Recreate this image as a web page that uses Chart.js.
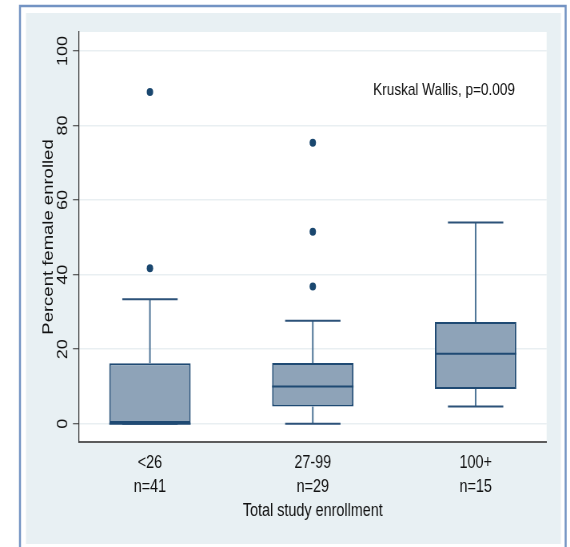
<!DOCTYPE html>
<html><head><meta charset="utf-8">
<script src="https://cdn.jsdelivr.net/npm/chart.js@4.4.1/dist/chart.umd.min.js"></script>
<style>
html,body{margin:0;padding:0;background:#fff;overflow:hidden;width:570px;height:547px}
#c{display:block;transform:scaleX(0.79944);transform-origin:0 0}
</style>
</head><body>
<canvas id="c" width="713" height="547"></canvas>
<script>
// ---- data ----
const categories = ['<26', '27-99', '100+'];
const groupSizes = [41, 29, 15];
const whiskerLow = [0, 0, 4.6];
const quartile1 = [0, 4.6, 9.3];
const medians = [0, 10, 18.8];
const quartile3 = [16.2, 16.3, 27.3];
const whiskerHigh = [33.4, 27.6, 54];
const outliers = [[41.7, 89], [36.8, 51.5, 75.4], []];
const yTicks = [0, 20, 40, 60, 80, 100];
const annotationText = 'Kruskal Wallis, p=0.009';
const xTitle = 'Total study enrollment';
const yTitle = 'Percent female enrolled';

// ---- style (the reference is horizontally condensed; canvas is drawn wider and squeezed) ----
const FONT = "'Liberation Sans', Arial, sans-serif";
const navy = '#1f4a73';
const capHalf = 0.17, medHalf = 0.25;

const groupX = categories.map((_, i) => i + 1);
const gap = x => ({x: x, y: null});

const whiskerData = [];
const capData = [];
const medianData = [];
const outlierData = [];
groupX.forEach((x, i) => {
  whiskerData.push({x, y: quartile3[i]}, {x, y: whiskerHigh[i]}, gap(x));
  whiskerData.push({x, y: quartile1[i]}, {x, y: whiskerLow[i]}, gap(x));
  capData.push({x: x - capHalf, y: whiskerHigh[i]}, {x: x + capHalf, y: whiskerHigh[i]}, gap(x));
  capData.push({x: x - capHalf, y: whiskerLow[i]}, {x: x + capHalf, y: whiskerLow[i]}, gap(x));
  medianData.push({x: x - medHalf, y: medians[i]}, {x: x + medHalf, y: medians[i]}, gap(x));
  outliers[i].forEach(v => outlierData.push({x, y: v}));
});

const frame = {
  id: 'frame',
  beforeDraw(chart) {
    const {ctx, chartArea: a} = chart;
    ctx.save();
    ctx.fillStyle = '#fff';
    ctx.fillRect(0, 0, chart.width, chart.height);
    ctx.strokeStyle = '#7393c3';
    ctx.lineWidth = 2.5;
    ctx.strokeRect(25, 6, 682.5, 620);
    ctx.fillStyle = '#e8f0f3';
    ctx.fillRect(32.5, 13, 669, 531);
    ctx.fillStyle = '#fff';
    ctx.fillRect(a.left, a.top, a.right - a.left, a.bottom - a.top);
    ctx.restore();
  }
};

const note = {
  id: 'note',
  afterDatasetsDraw(chart, args, opts) {
    const {ctx, scales: {x, y}} = chart;
    ctx.save();
    ctx.font = '17px ' + FONT;
    ctx.fillStyle = '#111';
    ctx.textAlign = 'center';
    ctx.textBaseline = 'middle';
    ctx.fillText(opts.text, x.getPixelForValue(opts.x), y.getPixelForValue(opts.y));
    ctx.restore();
  }
};

new Chart(document.getElementById('c'), {
  type: 'bar',
  data: {
    datasets: [
      {type: 'scatter', data: outlierData, order: 0, pointRadius: 4, pointBackgroundColor: '#1a476f', pointBorderWidth: 0},
      {type: 'line', data: medianData, order: 1, borderColor: navy, borderWidth: 2, pointRadius: 0, spanGaps: false},
      {type: 'line', data: capData, order: 2, borderColor: '#2c5279', borderWidth: 2, pointRadius: 0, spanGaps: false},
      {type: 'line', data: whiskerData, order: 3, borderColor: '#4f7597', borderWidth: 2, pointRadius: 0, spanGaps: false},
      {type: 'bar', data: groupX.map((x, i) => ({x, y: [quartile1[i], quartile3[i]]})), order: 4,
       backgroundColor: '#8ea3b8', borderColor: navy, borderWidth: 2, borderSkipped: false,
       barPercentage: 0.5, categoryPercentage: 1, grouped: false}
    ]
  },
  options: {
    responsive: false,
    animation: false,
    devicePixelRatio: 1,
    layout: {padding: {left: 0, top: 32, right: 29.25, bottom: 0}},
    plugins: {legend: {display: false}, tooltip: {enabled: false},
      note: {text: annotationText, x: 2.806, y: 89.5}},
    scales: {
      x: {
        type: 'linear', min: 0.564, max: 3.436, offset: false,
        afterBuildTicks: s => { s.ticks = groupX.map(v => ({value: v})); },
        afterFit: s => { s.height = 105; },
        grid: {display: false, drawTicks: false},
        border: {display: true, color: '#5c5c5c', width: 2},
        ticks: {autoSkip: false, maxRotation: 0, padding: 9, color: '#111',
          font: {family: FONT, size: 18, lineHeight: 1.333},
          callback: v => [categories[v - 1], 'n=' + groupSizes[v - 1]]},
        title: {display: true, text: xTitle, color: '#111',
          font: {family: FONT, size: 18, lineHeight: 1.2}, padding: {top: 0, bottom: 25}}
      },
      y: {
        type: 'linear', min: -4.9, max: 105.1,
        afterBuildTicks: s => { s.ticks = yTicks.map(v => ({value: v})); },
        afterFit: s => { s.width = 98.75; },
        grid: {color: '#e9eff2', lineWidth: 1.5, tickColor: '#333', tickLength: 7.5, tickWidth: 1},
        border: {display: true, color: '#333', width: 1.25},
        ticks: {minRotation: 90, maxRotation: 90, crossAlign: 'center', padding: -2.5, color: '#111',
          font: {family: FONT, size: 18}},
        title: {display: true, text: yTitle, color: '#111',
          font: {family: FONT, size: 18.5, lineHeight: 1.2}, padding: {top: 50, bottom: 0}}
      }
    }
  },
  plugins: [frame, note]
});
</script>
</body></html>
